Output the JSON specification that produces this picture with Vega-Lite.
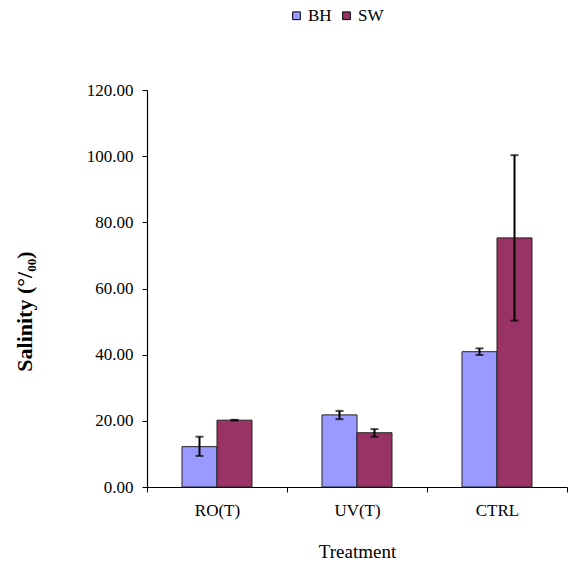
{
  "$schema": "https://vega.github.io/schema/vega-lite/v6.json",
  "autosize": "none",
  "width": 420,
  "height": 397,
  "padding": {"left": 147, "top": 90, "right": 3, "bottom": 76},
  "background": "white",
  "config": {
    "font": "Liberation Serif",
    "view": {"stroke": null},
    "axis": {"grid": false, "domainColor": "black", "tickColor": "black", "labelColor": "black", "titleColor": "black", "labelFont": "Liberation Serif", "titleFont": "Liberation Serif"}
  },
  "data": {
    "values": [
      {"treatment": "RO(T)", "group": "BH", "mean": 12.2, "lo": 9.4, "hi": 15.2},
      {"treatment": "RO(T)", "group": "SW", "mean": 20.2, "lo": 20.1, "hi": 20.3},
      {"treatment": "UV(T)", "group": "BH", "mean": 21.8, "lo": 20.5, "hi": 23.0},
      {"treatment": "UV(T)", "group": "SW", "mean": 16.4, "lo": 15.2, "hi": 17.5},
      {"treatment": "CTRL", "group": "BH", "mean": 40.9, "lo": 39.9, "hi": 41.9},
      {"treatment": "CTRL", "group": "SW", "mean": 75.3, "lo": 50.3, "hi": 100.3}
    ]
  },
  "encoding": {
    "x": {
      "field": "treatment", "type": "nominal", "sort": ["RO(T)", "UV(T)", "CTRL"],
      "scale": {"paddingInner": 0, "paddingOuter": 0},
      "axis": {"title": "Treatment", "labelAngle": 0, "tickBand": "extent", "tickSize": 5, "labelFontSize": 17, "labelPadding": 10, "titleFontSize": 19, "titleFontWeight": "normal", "titlePadding": 24, "domainWidth": 1.2}
    },
    "xOffset": {"field": "group", "type": "nominal", "sort": ["BH", "SW"], "scale": {"paddingInner": 0, "paddingOuter": 1.258}}
  },
  "layer": [
    {
      "mark": {"type": "bar", "stroke": "#222222", "strokeWidth": 1},
      "encoding": {
        "y": {
          "field": "mean", "type": "quantitative",
          "scale": {"domain": [0, 120], "nice": false},
          "axis": {"title": "Salinity (°/₀₀)", "values": [0, 20, 40, 60, 80, 100, 120], "format": ".2f", "tickSize": 5, "labelFontSize": 17, "labelPadding": 9, "titleFontSize": 22, "titleFontWeight": "bold", "titleX": -123, "titleY": 221, "titleAngle": -90, "titleAlign": "center", "titleBaseline": "middle", "domainWidth": 1.2}
        },
        "color": {
          "field": "group", "type": "nominal",
          "scale": {"domain": ["BH", "SW"], "range": ["#9999FF", "#993366"]},
          "legend": {"title": null, "orient": "none", "legendX": 141, "legendY": -83, "direction": "horizontal", "symbolType": "square", "symbolSize": 60, "symbolStrokeColor": "black", "symbolStrokeWidth": 1, "labelFontSize": 17, "labelColor": "black", "columnPadding": 6, "symbolOffset": 0, "labelOffset": 3}
        }
      }
    },
    {
      "mark": {"type": "rule", "color": "black", "strokeWidth": 2},
      "encoding": {
        "y": {"field": "lo", "type": "quantitative"},
        "y2": {"field": "hi"}
      }
    },
    {
      "mark": {"type": "tick", "color": "black", "thickness": 2, "size": 8},
      "encoding": {"y": {"field": "lo", "type": "quantitative"}}
    },
    {
      "mark": {"type": "tick", "color": "black", "thickness": 2, "size": 8},
      "encoding": {"y": {"field": "hi", "type": "quantitative"}}
    }
  ]
}
